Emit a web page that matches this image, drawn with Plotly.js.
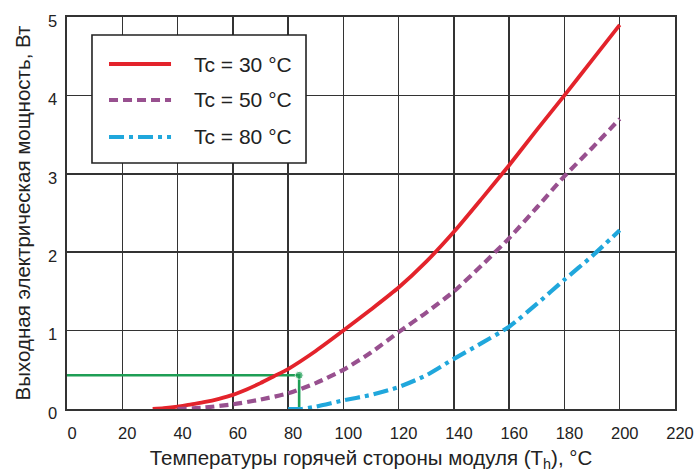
<!DOCTYPE html>
<html>
<head>
<meta charset="utf-8">
<script src="https://cdn.plot.ly/plotly-3.0.1.min.js"></script>
<style>html,body{margin:0;padding:0;background:#fff;}#chart{width:696px;height:473px;}</style>
</head>
<body>
<div id="chart"></div>
<script>
// ---- data ----
const seriesNames = ["Tc = 30 °C", "Tc = 50 °C", "Tc = 80 °C"];

const tc30_T = [31, 35, 40, 45, 50, 55, 60, 65, 70, 75, 80, 90, 100, 110, 120, 130, 140, 150, 160, 170, 180, 190, 200];
const tc30_P = [0, 0.01, 0.03, 0.06, 0.09, 0.13, 0.18, 0.25, 0.33, 0.42, 0.51, 0.74, 1.0, 1.27, 1.55, 1.88, 2.26, 2.68, 3.11, 3.56, 4.0, 4.45, 4.9];

const tc50_T = [40, 50, 60, 70, 80, 90, 100, 110, 120, 130, 140, 150, 160, 170, 180, 190, 200];
const tc50_P = [0, 0.02, 0.06, 0.12, 0.2, 0.33, 0.5, 0.72, 0.98, 1.23, 1.5, 1.83, 2.18, 2.57, 2.97, 3.33, 3.7];

const tc80_T = [80, 85, 90, 100, 110, 120, 130, 140, 150, 160, 170, 180, 190, 200];
const tc80_P = [0, 0, 0.03, 0.11, 0.18, 0.28, 0.43, 0.64, 0.84, 1.05, 1.34, 1.65, 1.95, 2.28];

// example reading (green guide)
const guide_T = [0, 84, 84];
const guide_P = [0.43, 0.43, 0];

const xTicks = [0, 20, 40, 60, 80, 100, 120, 140, 160, 180, 200, 220];
const yTicks = [0, 1, 2, 3, 4, 5];

// ---- styles ----
const colors = ["#e3232b", "#98508f", "#20a7dc"];
const dashes = ["solid", "9px,5px", "15px,5px,4px,5px"];
const widths = [3.8, 4.2, 4.2];
const FONT = "Liberation Sans, Arial, Helvetica, sans-serif";

const xs = [tc30_T, tc50_T, tc80_T];
const ys = [tc30_P, tc50_P, tc80_P];

const traces = [{
  x: guide_T, y: guide_P, type: "scatter", mode: "lines+markers",
  line: {color: "#1e9e55", width: 2.6},
  marker: {color: "#1e9e55", size: [0, 8, 0]},
  showlegend: false, hoverinfo: "skip"
}];
for (let i = 0; i < 3; i++) {
  traces.push({
    x: xs[i], y: ys[i], name: seriesNames[i], type: "scatter", mode: "lines",
    line: {color: colors[i], width: widths[i], dash: dashes[i], shape: "spline", smoothing: 0.6},
    showlegend: false
  });
}

// manual legend (paper coordinates)
const shapes = [{
  type: "rect", xref: "paper", yref: "paper",
  x0: 0.0411, x1: 0.3931, y0: 0.6276, y1: 0.9541,
  line: {color: "#222", width: 1.6}, fillcolor: "#ffffff", layer: "above"
}];
const annotations = [];
const rowY = [0.8801, 0.7883, 0.6939];
for (let i = 0; i < 3; i++) {
  shapes.push({
    type: "line", xref: "paper", yref: "paper",
    x0: 0.0691, x1: 0.1711, y0: rowY[i], y1: rowY[i],
    line: {color: colors[i], width: widths[i], dash: dashes[i]}, layer: "above"
  });
  annotations.push({
    xref: "paper", yref: "paper", x: 0.2056, y: rowY[i],
    xanchor: "left", yanchor: "middle", showarrow: false,
    text: seriesNames[i], font: {family: FONT, size: 21, color: "#222"}
  });
}

const axisCommon = {
  showgrid: true, gridcolor: "#333333", gridwidth: 1.5,
  showline: true, mirror: true, linecolor: "#333333", linewidth: 1.6,
  zeroline: false, ticks: "", tickfont: {family: FONT, size: 16.5, color: "#222"}
};

const layout = {
  width: 696, height: 473,
  margin: {l: 67, r: 21, t: 17, b: 64},
  paper_bgcolor: "#fff", plot_bgcolor: "#fff",
  showlegend: false,
  font: {family: FONT, color: "#222"},
  xaxis: Object.assign({}, axisCommon, {
    range: [0, 220], tickvals: xTicks, ticktext: xTicks.map(String),
    ticklabelstandoff: 9, ticklabelshift: 5,
    title: {text: "Температуры горячей стороны модуля (T<sub>h</sub>), °C", font: {family: FONT, size: 20.5, color: "#222"}, standoff: 9}
  }),
  yaxis: Object.assign({}, axisCommon, {
    range: [0, 5], tickvals: yTicks, ticktext: yTicks.map(String),
    ticklabelstandoff: 5, ticklabelshift: 4,
    title: {text: "Выходная электрическая мощность, Вт", font: {family: FONT, size: 20.5, color: "#222"}, standoff: 12}
  }),
  shapes: shapes,
  annotations: annotations
};

Plotly.newPlot("chart", traces, layout, {staticPlot: true, displayModeBar: false});
</script>
</body>
</html>
